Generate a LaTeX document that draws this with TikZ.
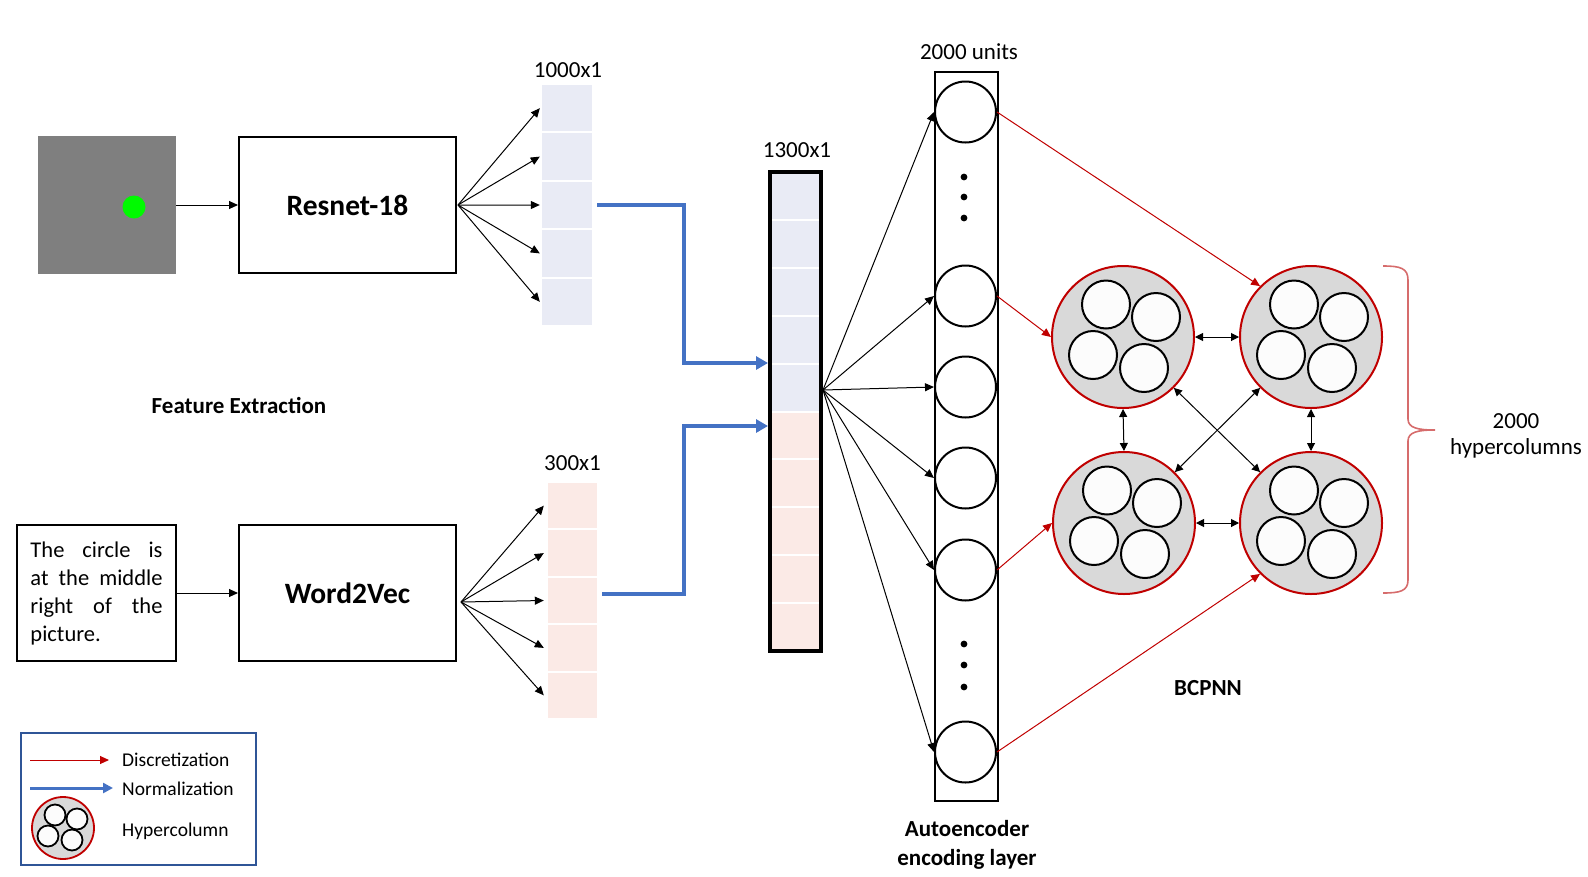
\documentclass[tikz,border=0pt]{standalone}
\usepackage{fontspec}
\setmainfont{Carlito}
\usepackage{tikz}
\usetikzlibrary{arrows.meta,positioning,calc}
\definecolor{imggray}{RGB}{127,127,127}
\definecolor{dotgreen}{RGB}{0,250,0}
\definecolor{vecblue}{RGB}{233,235,245}
\definecolor{vecpink}{RGB}{251,234,230}
\definecolor{normblue}{RGB}{68,114,196}
\definecolor{discred}{RGB}{192,0,0}
\definecolor{bracered}{RGB}{214,108,108}
\definecolor{hcgray}{RGB}{217,217,217}
\definecolor{unitwhite}{RGB}{252,252,252}
\definecolor{legblue}{RGB}{47,85,151}

\begin{document}
\begin{tikzpicture}[x=1pt,y=-1pt,
    box/.style={draw=black,line width=2pt,minimum width=217pt,minimum height=135.5pt,inner sep=0pt,font=\fontsize{29.5}{32}\selectfont\bfseries},
    cellA/.style={fill=vecblue,minimum width=50pt,minimum height=46.4pt,inner sep=0pt},
    cellB/.style={fill=vecpink,minimum width=49pt,minimum height=45.4pt,inner sep=0pt},
    arr/.style={-{Triangle[length=9pt,width=8pt]},line width=1pt},
    darr/.style={{Triangle[length=8pt,width=8pt]}-{Triangle[length=8pt,width=8pt]},line width=1pt},
    disc/.style={-{Triangle[length=9pt,width=8pt]},draw=discred,line width=1pt},
    norm/.style={-{Triangle[length=12pt,width=13pt]},draw=normblue,line width=4pt},
    unit/.style={circle,draw=black,line width=2pt,minimum size=61pt,inner sep=0pt},
    hcol/.style={circle,draw=discred,fill=hcgray,line width=2pt,minimum size=142pt,inner sep=0pt},
    mini/.style={draw=black,fill=unitwhite,line width=2pt},
    lbl/.style={font=\fontsize{23}{27}\selectfont},
    blbl/.style={font=\fontsize{23}{29}\selectfont\bfseries},
    leglbl/.style={anchor=west,inner sep=0pt,font=\fontsize{19.5}{22}\selectfont}
]
\useasboundingbox (0,0) rectangle (1588,876);

% image and sentence inputs
\node[fill=imggray,minimum size=137.5pt,inner sep=0pt] (img) at (107,205) {};
\node[circle,fill=dotgreen,minimum size=23pt,inner sep=0pt] (dot) at (134,207) {};
\node[box] (res) at (347.5,205) {Resnet-18};
\node[draw,line width=2pt,text width=132pt,align=justify,inner xsep=13.5pt,minimum height=136pt,font=\fontsize{22.5}{28}\selectfont] (txt) at (96.5,593) {The circle is\linebreak at the middle\linebreak right of the\linebreak picture.};
\node[box] (w2v) at (347.5,593) {Word2Vec};
\draw[arr] (img.east) -- (res.west);
\draw[arr] (txt.east) -- (w2v.west);

% feature vectors
\foreach \i in {1,...,5}
    \node[cellA] (a\i) at (567,{84+48.4*(\i-0.5)}) {};
\foreach \i in {1,...,5}
    \node[cellB] (b\i) at (572.5,{482+47.4*(\i-0.5)}) {};
\node[lbl] (la) at (568,70) {1000x1};
\node[lbl] (lb) at (572.5,463) {300x1};
\foreach \i in {1,...,5} {
    \draw[arr] ([xshift=1pt]res.east) -- ([xshift=-2pt]a\i.west);
    \draw[arr] ([shift={(4,9)}]w2v.east) -- ([xshift=-4pt]b\i.west);
}
\node[blbl] (fe) at (239,405) {Feature Extraction};

% concatenated vector
\foreach \i in {1,...,5}
    \node[fill=vecblue,minimum width=51pt,minimum height=45.9pt,inner sep=0pt] (v\i) at (795.5,{172+47.9*(\i-0.5)}) {};
\foreach \i in {6,...,10}
    \node[fill=vecpink,minimum width=51pt,minimum height=45.9pt,inner sep=0pt] (v\i) at (795.5,{172+47.9*(\i-0.5)}) {};
\node[draw,line width=4pt,minimum width=51pt,minimum height=479pt,inner sep=0pt] (vec) at (795.5,411.5) {};
\node[lbl] (lv) at (797,150) {1300x1};
\coordinate (in1) at (768,363);
\coordinate (in2) at (768,426);
\draw[norm] ([xshift=5pt]a3.east) -| ($(in1)+(-84,0)$) -- (in1);
\draw[norm] ([shift={(5,-7)}]b3.east) -| ($(in2)+(-84,0)$) -- (in2);

% autoencoder layer
\node[draw,line width=1.3pt,minimum width=63pt,minimum height=729pt,inner sep=0pt] (col) at (966.5,436.5) {};
\foreach \i/\y in {1/112,2/296,3/387,4/478,5/570,6/752}
    \node[unit] (n\i) at (965.5,\y) {};
\foreach \y in {177,197,218,644,665,687}
    \fill (964,\y) circle (3.4);
\node[lbl] (lu) at (969,52) {2000 units};
\node[blbl,align=center] (lae) at (967,845) {Autoencoder\\encoding layer};
\coordinate (vo) at (823,390);
\foreach \i in {1,...,6}
    \draw[arr] (vo) -- (n\i.west);

% hypercolumns
\node[hcol] (h1) at (1123,337) {};
\node[hcol] (h2) at (1311,337) {};
\node[hcol] (h3) at (1124,523) {};
\node[hcol] (h4) at (1311,523) {};
\foreach \h in {h1,h2,h3,h4}
    \foreach \dx/\dy in {-17/-32.5,33/-20,-30/18,21/31}
        \draw[mini] ([shift={(\dx,\dy)}]\h) circle (24);
\draw[darr] (h1.east) -- (h2.west);
\draw[darr] (h3.east) -- (h4.west);
\draw[darr] (h1.south) -- (h3.north);
\draw[darr] (h2.south) -- (h4.north);
\draw[darr] (h1.south east) -- (h4.north west);
\draw[darr] (h2.south west) -- (h3.north east);
\draw[disc] (n1.east) -- (h2.135);
\draw[disc] (n2.east) -- (h1.west);
\draw[disc] (n5.east) -- (h3.west);
\draw[disc] (n6.east) -- (h4.225);
\node[blbl] (bc) at (1208,688) {BCPNN};

% brace
\draw[bracered,line width=1.6pt] (1383,266) .. controls (1400,266) and (1408,268) .. (1408,280) -- (1408,419)
    .. controls (1408,428) and (1418,430) .. (1435,430) .. controls (1418,430) and (1408,432) .. (1408,441)
    -- (1408,580) .. controls (1408,591) and (1400,593) .. (1383,593);
\node[lbl,align=center,font=\fontsize{23}{26}\selectfont] (lhc) at (1516,436) {2000\\hypercolumns};

% legend
\node[draw=legblue,line width=2pt,minimum width=235pt,minimum height=132pt,inner sep=0pt] (leg) at (138.5,799) {};
\coordinate (l1a) at (30,760);
\coordinate (l1b) at (109,760);
\coordinate (l2a) at (30,788);
\coordinate (l2b) at (113,788);
\draw[disc] (l1a) -- (l1b);
\draw[norm,-{Triangle[length=10pt,width=10pt]},line width=3pt] (l2a) -- (l2b);
\node[hcol,minimum size=62pt,line width=1.8pt] (lh) at (63,828) {};
\foreach \dx/\dy in {-8/-13,14/-9,-15/8,9/12}
    \draw[mini,line width=1.8pt] ([shift={(\dx,\dy)}]lh) circle (10.5);
\node[leglbl] (t1) at (122,760) {Discretization};
\node[leglbl] (t2) at (122,789) {Normalization};
\node[leglbl] (t3) at (122,831) {Hypercolumn};
\end{tikzpicture}
\end{document}
